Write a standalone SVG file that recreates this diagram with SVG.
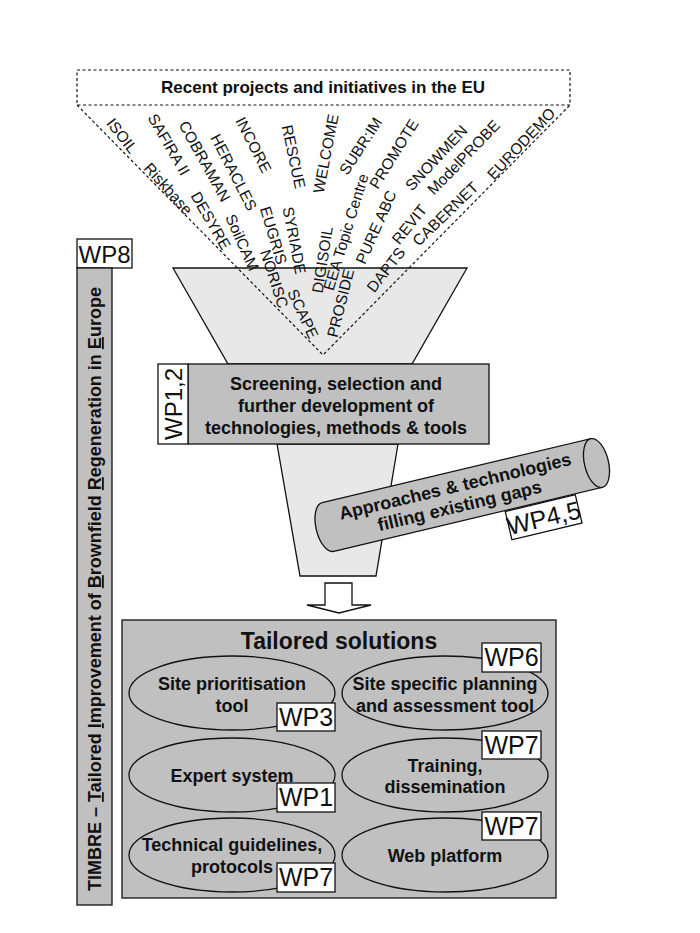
<svg xmlns="http://www.w3.org/2000/svg" width="700" height="933" viewBox="0 0 700 933">
<style>
text{font-family:"Liberation Sans",Arial,sans-serif;fill:#111}
.b{font-weight:bold;font-size:18px}
.p{font-size:15.5px}
.wp{font-size:25px}
.ln{stroke:#111;stroke-width:1.3}
.g{fill:#c0c0c0}
.w{fill:#fff}
.d{fill:none;stroke:#111;stroke-width:1.2;stroke-dasharray:3,2.5}
</style>
<rect width="700" height="933" fill="#fff"/>
<g id="funnel">
<polygon points="173,268 467,268 412,364 228,364" fill="#e8e8e8" class="ln"/>
<polygon points="277,444 398,444 376,576 300,576" fill="#e8e8e8" class="ln"/>
</g>
<g id="projects">
<rect x="77" y="70" width="493" height="35" fill="#fff" class="d"/>
<text x="323" y="93" text-anchor="middle" class="b" style="font-size:17px">Recent projects and initiatives in the EU</text>
<polyline points="77,105 323,355 570,105" class="d"/>
<g class="p" dominant-baseline="central">
<text transform="translate(110,120) rotate(52)">ISOIL</text>
<text transform="translate(152,115) rotate(60)">SAFIRA II</text>
<text transform="translate(183,122) rotate(61)">COBRAMAN</text>
<text transform="translate(215,135) rotate(63)">HERACLES</text>
<text transform="translate(240,118) rotate(63)">INCORE</text>
<text transform="translate(287,125) rotate(78)">RESCUE</text>
<text transform="translate(318,193) rotate(-79)">WELCOME</text>
<text transform="translate(343,173) rotate(-57)">SUBR:IM</text>
<text transform="translate(373,187) rotate(-58)">PROMOTE</text>
<text transform="translate(408,188) rotate(-47)">SNOWMEN</text>
<text transform="translate(430,192) rotate(-46)">ModelPROBE</text>
<text transform="translate(490,177) rotate(-47)">EURODEMO</text>
<text transform="translate(147,165) rotate(48)">Riskbase</text>
<text transform="translate(195,193) rotate(60)">DESYRE</text>
<text transform="translate(230,215) rotate(66)">SoilCAM</text>
<text transform="translate(265,207) rotate(73)">EUGRIS</text>
<text transform="translate(265,250) rotate(72)">NORISC</text>
<text transform="translate(288,207) rotate(79)">SYRIADE</text>
<text transform="translate(292,290) rotate(65)">SCAPE</text>
<text transform="translate(317,293) rotate(-81)">DIGISOIL</text>
<text transform="translate(328,290) rotate(-73)">EEA Topic Centre</text>
<text transform="translate(332,337) rotate(-76)">PROSIDE</text>
<text transform="translate(360,263) rotate(-66)">PURE ABC</text>
<text transform="translate(395,242) rotate(-51)">REVIT</text>
<text transform="translate(370,290) rotate(-52)">DAPTS</text>
<text transform="translate(415,243) rotate(-44)">CABERNET</text>
</g>
</g>
<g id="wp8">
<rect x="77" y="239" width="55" height="29" class="w ln"/>
<text x="104.5" y="263" text-anchor="middle" class="wp" style="font-size:24px">WP8</text>
<rect x="77" y="268" width="35" height="637" class="g ln"/>
<text transform="translate(101,589) rotate(-90)" text-anchor="middle" class="b">TIMBRE – <tspan text-decoration="underline">T</tspan>ailored <tspan text-decoration="underline">I</tspan>mprovement of <tspan text-decoration="underline">B</tspan>rownfield <tspan text-decoration="underline">R</tspan>egeneration in <tspan text-decoration="underline">E</tspan>urope</text>
</g>
<g id="screening">
<rect x="188" y="364" width="301" height="80" class="g ln"/>
<rect x="158" y="364" width="30" height="80" class="w ln"/>
<text transform="translate(182,404) rotate(-90)" text-anchor="middle" class="wp" style="font-size:24px">WP1,2</text>
<text x="336" y="390" text-anchor="middle" class="b">Screening, selection and</text>
<text x="336" y="412" text-anchor="middle" class="b">further development of</text>
<text x="336" y="434" text-anchor="middle" class="b">technologies, methods &amp; tools</text>
</g>
<g id="cylinder" transform="translate(328,527) rotate(-13.4)">
<path d="M0,-25 L276,-25 L276,25 L0,25 A12,25 0 0 1 0,-25 Z" class="g ln"/>
<ellipse cx="276" cy="0" rx="12" ry="25" class="g ln"/>
<text x="133" y="-4" text-anchor="middle" class="b">Approaches &amp; technologies</text>
<text x="133" y="16" text-anchor="middle" class="b">filling existing gaps</text>
<rect x="176" y="26" width="72" height="29" class="w ln"/>
<text x="212" y="50" text-anchor="middle" class="wp">WP4,5</text>
</g>
<g id="connectors">
<polygon points="325,583 352,583 352,605 371,605 339,613 307,605 325,605" fill="#fff" class="ln"/>
</g>
<g id="tailored">
<rect x="122" y="620" width="434" height="278" class="g ln"/>
<text x="339" y="649" text-anchor="middle" class="b" style="font-size:23px">Tailored solutions</text>
<g fill="none" class="ln">
<ellipse cx="232" cy="693" rx="103" ry="37"/>
<ellipse cx="445" cy="693" rx="103" ry="37"/>
<ellipse cx="232" cy="775" rx="103" ry="37"/>
<ellipse cx="445" cy="775" rx="103" ry="37"/>
<ellipse cx="232" cy="855" rx="103" ry="37"/>
<ellipse cx="445" cy="855" rx="103" ry="37"/>
</g>
<g class="b" text-anchor="middle">
<text x="232" y="690">Site prioritisation</text>
<text x="232" y="712">tool</text>
<text x="445" y="690">Site specific planning</text>
<text x="445" y="712">and assessment tool</text>
<text x="232" y="782">Expert system</text>
<text x="445" y="772">Training,</text>
<text x="445" y="793">dissemination</text>
<text x="232" y="851">Technical guidelines,</text>
<text x="232" y="873">protocols</text>
<text x="445" y="862">Web platform</text>
</g>
<g class="w ln">
<rect x="277" y="703" width="58" height="28"/>
<rect x="482" y="643" width="59" height="29"/>
<rect x="277" y="783" width="58" height="29"/>
<rect x="482" y="731" width="59" height="28"/>
<rect x="482" y="812" width="59" height="28"/>
<rect x="277" y="863" width="58" height="29"/>
</g>
<g class="wp" text-anchor="middle">
<text x="306" y="726">WP3</text>
<text x="511.5" y="666">WP6</text>
<text x="306" y="806">WP1</text>
<text x="511.5" y="754">WP7</text>
<text x="511.5" y="835">WP7</text>
<text x="306" y="886">WP7</text>
</g>
</g>
</svg>
